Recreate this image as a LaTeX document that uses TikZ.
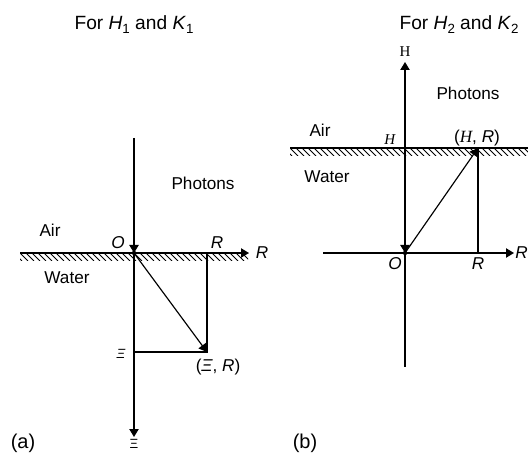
\documentclass[tikz,border=0pt]{standalone}
\usepackage{fontspec}
\setmainfont{Liberation Sans}
\newfontfamily\timesfont{Liberation Serif}
\usetikzlibrary{arrows.meta}
\newcommand{\lowsub}[1]{\raisebox{-0.4ex}{\fontsize{8}{9}\selectfont #1}}
\begin{document}
\begin{tikzpicture}[
  x=0.6pt, y=-0.6pt,
  font=\fontsize{10.3}{12}\selectfont,
  lbl/.style={inner sep=0pt},
  title/.style={inner sep=0pt,font=\fontsize{11.5}{13}\selectfont},
  caption/.style={inner sep=0pt,font=\fontsize{12}{14}\selectfont},
  greek/.style={inner sep=0pt,font=\fontsize{8}{9}\selectfont},
  seriflbl/.style={inner sep=0pt,font=\fontsize{9}{10}\selectfont\timesfont},
  axis/.style={line width=0.7pt},
  arr/.style={line width=0.7pt,-{Triangle[length=4.8pt,width=5.6pt]}},
  hatch/.style={line width=0.5pt},
  dot/.style={circle,fill,inner sep=0pt,minimum size=2.6pt}]
\useasboundingbox (0,0) rectangle (528,455);
% (a) for H1 and K1
\node[title] (titleA) at (134,25) {For \textit{H}\lowsub{1} and \textit{K}\lowsub{1}};
\coordinate (topA) at (134,138);
\coordinate (botA) at (134,437);
\coordinate (leftA) at (20,253);
\coordinate (rightA) at (249,253);
\node[dot] (OA) at (134,253) {};
\coordinate (RA) at (207,253);
\coordinate (XiRA) at (207,352);
\coordinate (XiA) at (134,352);
\begin{scope}
  \clip (20,253) rectangle (248,261);
  \foreach \x in {14,20,...,254}
    \draw[hatch] (\x,253) -- (\x+8,261);
\end{scope}
\draw[arr] (topA) -- (OA.center);
\draw[arr] (OA.center) -- (botA);
\draw[arr] (leftA) -- (rightA);
\draw[axis] (RA) -- (XiRA) -- (XiA);
\draw[arr] (OA.center) -- (XiRA);
\node[lbl] (photA) at (203,183) {Photons};
\node[lbl] (airA) at (50,230) {Air};
\node[lbl] (waterA) at (67,278) {Water};
\node[lbl] (olblA) at (118,243) {\textit{O}};
\node[lbl] (rlblA) at (217,243) {\textit{R}};
\node[lbl] (raxA) at (262,253) {\textit{R}};
\node[greek] (xilblA) at (121,354) {\textit{Ξ}};
\node[greek] (xiaxA) at (134,444) {Ξ};
\node[lbl] (xirA) at (218,367) {(\textit{Ξ}, \textit{R})};
\node[caption] (capA) at (23,443) {(a)};
% (b) for H2 and K2
\node[title] (titleB) at (459,25) {For \textit{H}\lowsub{2} and \textit{K}\lowsub{2}};
\coordinate (topB) at (405,62);
\coordinate (botB) at (405,367);
\coordinate (HB) at (405,148);
\coordinate (leftB) at (323,253);
\coordinate (rightB) at (514,253);
\node[dot] (OB) at (405,253) {};
\coordinate (HRB) at (478,148);
\coordinate (RB) at (478,253);
\begin{scope}
  \clip (290,148) rectangle (528,156);
  \foreach \x in {284,290,...,530}
    \draw[hatch] (\x,148) -- (\x+8,156);
\end{scope}
\draw[axis] (290,148) -- (528,148);
\draw[arr] (botB) -- (topB);
\draw[arr] (HB) -- (OB.center);
\draw[arr] (leftB) -- (rightB);
\draw[axis] (HRB) -- (RB);
\draw[arr] (OB.center) -- (HRB);
\node[seriflbl] (hlblB) at (405,52) {H};
\node[lbl] (photB) at (468,93) {Photons};
\node[lbl] (airB) at (320,130) {Air};
\node[lbl] (waterB) at (327,177) {Water};
\node[seriflbl] (hsurfB) at (390,140) {\textit{H}};
\node[lbl] (hrB) at (477,138) {({\timesfont\itshape H}, \textit{R})};
\node[lbl] (olblB) at (395,264) {\textit{O}};
\node[lbl] (rlblB) at (478,264) {\textit{R}};
\node[lbl,anchor=west] (raxB) at (515,253) {\textit{R}};
\node[caption] (capB) at (305,443) {(b)};
\end{tikzpicture}
\end{document}
